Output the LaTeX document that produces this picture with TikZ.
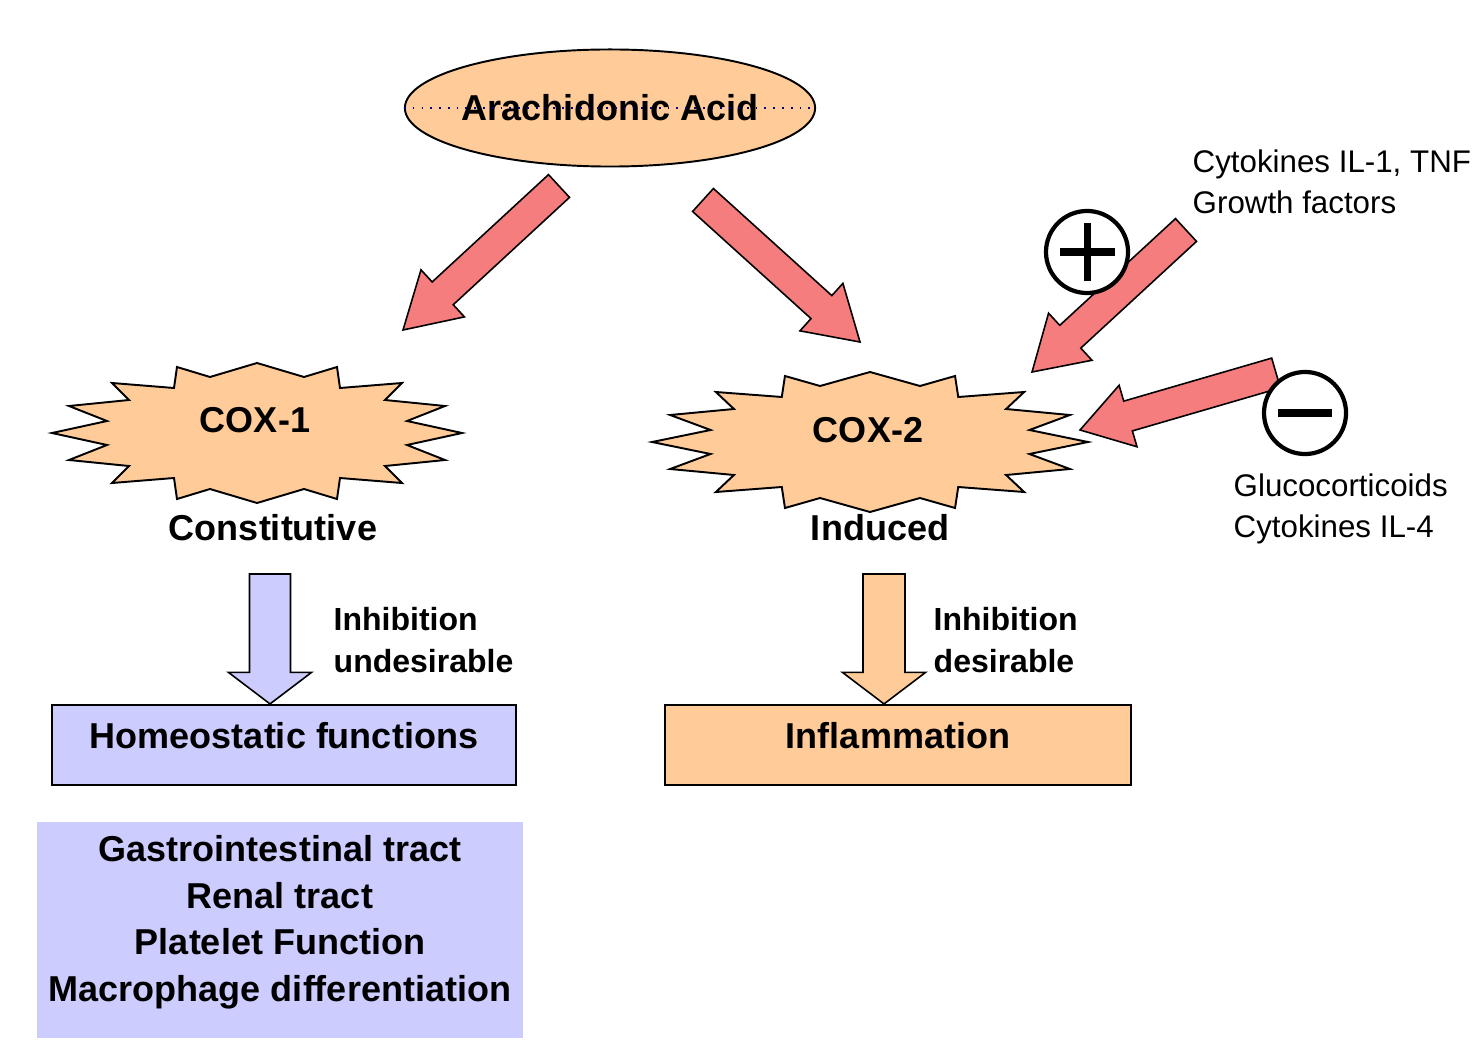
\documentclass[tikz,border=0pt]{standalone}
\usepackage{fontspec}
\setmainfont{Liberation Sans}
\usepackage{xcolor}
\usepackage{tikz}
\usetikzlibrary{shapes.geometric,calc,positioning}
\pgfdeclarelayer{bg}
\pgfsetlayers{bg,main}

\definecolor{peach}{RGB}{255,204,153}
\definecolor{lavender}{RGB}{204,204,255}
\definecolor{salmon}{RGB}{245,125,125}
\definecolor{navyblue}{RGB}{0,0,128}

% block arrow: style, tail, tip, shaft half width, head half width, head length
\newcommand{\fatarrow}[6]{%
  \coordinate (hb) at ($(#3)!#6!(#2)$);
  \draw[#1] ($(#2)!#4!90:(#3)$) -- ($(hb)!#4!90:(#3)$) -- ($(hb)!#5!90:(#3)$) -- (#3)
    -- ($(hb)!#5!-90:(#3)$) -- ($(hb)!#4!-90:(#3)$) -- ($(#2)!#4!-90:(#3)$) -- cycle;}

% star shaped enzyme outline: centre, xscale
\newcommand{\burst}[2]{%
  \draw[burstline, shift={(#1)}, xscale=#2] (-205,0) -- (-150,-12) -- (-188,-27) -- (-128,-33) -- (-145,-50)
    -- (-83,-45) -- (-80,-66) -- (-47,-56) -- (0,-70) -- (47,-56) -- (80,-66) -- (83,-45) -- (145,-50)
    -- (128,-33) -- (188,-27) -- (150,-12) -- (205,0) -- (150,12) -- (188,27) -- (128,33) -- (145,50)
    -- (83,45) -- (80,66) -- (47,56) -- (0,70) -- (-47,56) -- (-80,66) -- (-83,45) -- (-145,50)
    -- (-128,33) -- (-188,27) -- (-150,12) -- cycle;}

\begin{document}
\begin{tikzpicture}[x=0.01cm, y=-0.01cm,
    bigtext/.style={font=\fontsize{10.24pt}{13.3pt}\selectfont\bfseries},
    midtext/.style={font=\fontsize{9.1pt}{11.9pt}\selectfont\bfseries, align=left, anchor=west, inner xsep=0pt},
    sidetext/.style={font=\fontsize{8.9pt}{11.5pt}\selectfont, align=left, anchor=west, inner xsep=0pt},
    blockarrow/.style={draw=black, line width=0.45pt},
    burstline/.style={draw=black, fill=peach, line width=0.55pt},
    signcircle/.style={circle, draw, fill=white, line width=1.2pt, minimum size=0.82cm, inner sep=0pt},
    signbar/.style={line width=2pt}]
	\begin{pgfonlayer}{bg}
		\fill[white] (0,0) rectangle (1477,1052);
	\end{pgfonlayer}
	\useasboundingbox (0,0) rectangle (1477,1052);

	\node[ellipse, draw, fill=peach, line width=0.55pt, minimum width=4.1cm, minimum height=1.17cm, inner xsep=-0.05cm, bigtext] (aa) at (610,108) {Arachidonic Acid};
	\draw[dotted, navyblue, line width=0.5pt] (aa.west) -- (aa.east);

	\node[bigtext] (cox1) at (255,420) {COX-1};
	\node[bigtext] (cox2) at (868,430) {COX-2};
	\node[bigtext] (const) at (273,528) {Constitutive};
	\node[bigtext] (induced) at (880,528) {Induced};
	\node[midtext] (undes) at (333,640) {Inhibition\\undesirable};
	\node[midtext] (des) at (933,640) {Inhibition\\desirable};

	\node[draw, fill=lavender, line width=0.6pt, minimum width=4.64cm, minimum height=0.8cm, text height=0.26cm, text depth=0.2cm, bigtext] (homeo) at (284,745) {Homeostatic functions};
	\node[draw, fill=peach, line width=0.6pt, minimum width=4.65cm, minimum height=0.8cm, text height=0.26cm, text depth=0.2cm, bigtext] (inflam) at (898,745) {Inflammation};
	\node[fill=lavender, minimum width=4.83cm, minimum height=2.16cm, align=center, text depth=0.23cm, bigtext] (organs) at (280,930) {Gastrointestinal tract\\Renal tract\\Platelet Function\\Macrophage differentiation};

	\node[sidetext] (stim) at (1192,182) {Cytokines IL-1, TNF\\Growth factors};
	\node[sidetext] (supp) at (1233,509) {Glucocorticoids\\Cytokines IL-4};

	\begin{pgfonlayer}{bg}
		\burst{$(cox1)+(2,13)$}{1}
		\burst{$(cox2)+(2,12)$}{1.063}
	\end{pgfonlayer}

	\coordinate (aa1) at (559,186);
	\coordinate (c1in) at (403,330);
	\coordinate (aa2) at (703,200);
	\coordinate (c2in) at (860,342);
	\coordinate (stimtail) at (1186,230);
	\coordinate (stimtip) at (1032,372);
	\coordinate (supptail) at (1276,373);
	\coordinate (supptip) at (1080,430);
	\fatarrow{blockarrow, fill=salmon}{aa1}{c1in}{0.155cm}{0.32cm}{0.54cm}
	\fatarrow{blockarrow, fill=salmon}{aa2}{c2in}{0.155cm}{0.32cm}{0.52cm}
	\fatarrow{blockarrow, fill=salmon}{stimtail}{stimtip}{0.155cm}{0.32cm}{0.52cm}
	\fatarrow{blockarrow, fill=salmon}{supptail}{supptip}{0.155cm}{0.32cm}{0.5cm}

	\coordinate (c1out) at (270,574);
	\coordinate (homeotop) at (c1out |- homeo.north);
	\fatarrow{blockarrow, fill=lavender}{c1out}{homeotop}{0.205cm}{0.415cm}{0.315cm}
	\coordinate (c2out) at (884,574);
	\coordinate (inflamtop) at (c2out |- inflam.north);
	\fatarrow{blockarrow, fill=peach}{c2out}{inflamtop}{0.21cm}{0.415cm}{0.315cm}

	\node[signcircle] (plus) at (1087,252) {};
	\draw[signbar] ([xshift=-0.275cm]plus.center) -- ([xshift=0.275cm]plus.center)
		([yshift=-0.29cm]plus.center) -- ([yshift=0.29cm]plus.center);
	\node[signcircle] (minus) at (1305,413) {};
	\draw[signbar] ([xshift=-0.27cm]minus.center) -- ([xshift=0.27cm]minus.center);
\end{tikzpicture}
\end{document}
